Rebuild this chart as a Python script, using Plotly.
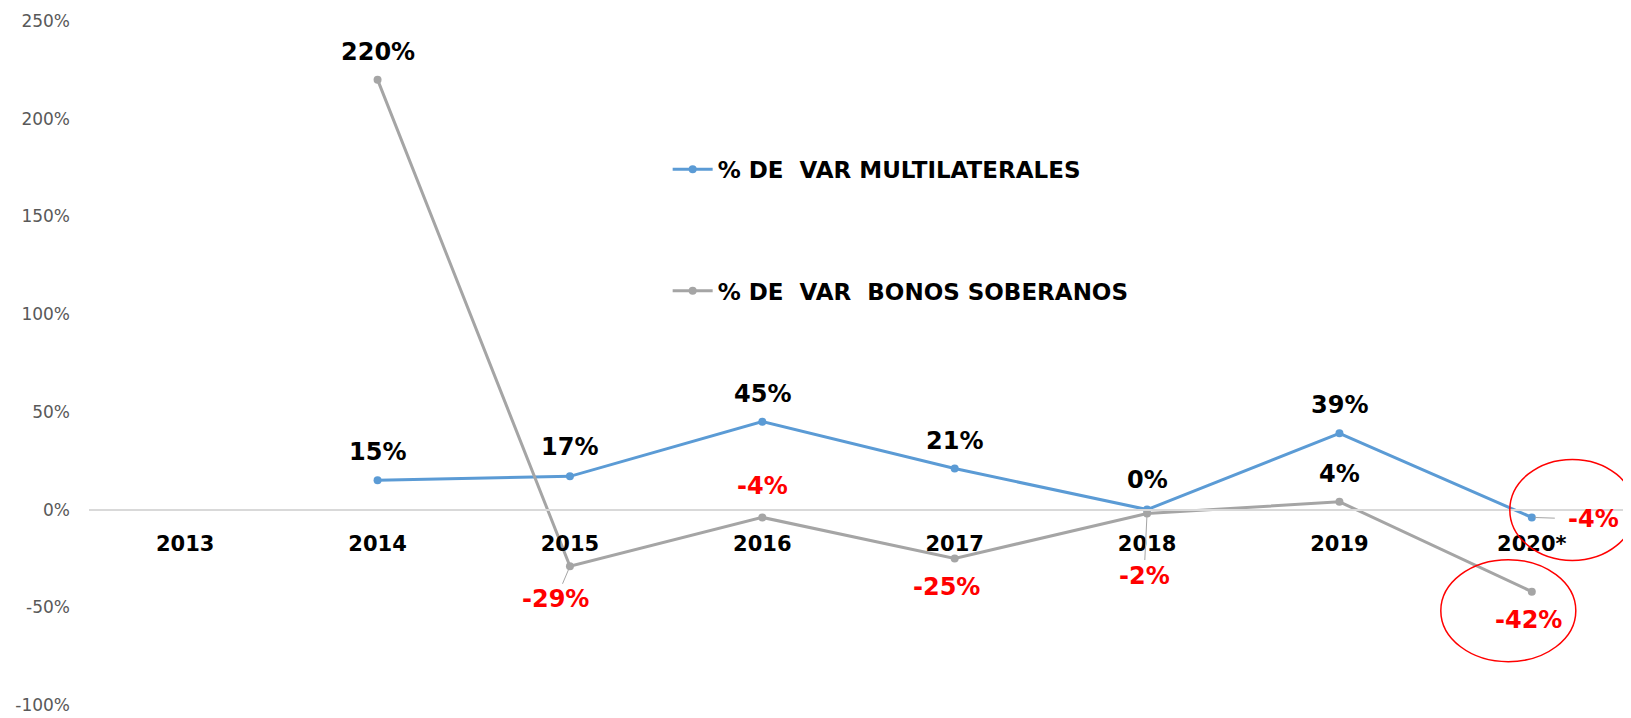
import plotly.graph_objects as go

# ---- data ----
years = ["2013", "2014", "2015", "2016", "2017", "2018", "2019", "2020*"]
multilaterales = [None, 15, 17, 45, 21, 0, 39, -4]
bonos = [None, 220, -29, -4, -25, -2, 4, -42]
y_ticks = [-100, -50, 0, 50, 100, 150, 200, 250]
y_tick_labels = [f"{v}%" for v in y_ticks]

name_multi = "% DE\u00a0 VAR MULTILATERALES"
name_bonos = "% DE\u00a0 VAR\u00a0 BONOS SOBERANOS"

# ---- styles ----
BLUE = "#5B9BD5"
GRAY = "#A5A5A5"
RED = "#FF0000"
FONT = "DejaVu Sans"

# label styling per point: (color, dx, dy, leader)
multi_lbl = [None,
             ("black", 0, -28, False), ("black", 0, -29, False), ("black", 0, -28, False),
             ("black", 0, -28, False), ("black", 0, -30, False), ("black", 0, -28, False),
             (RED, 62, 2, True)]
bonos_lbl = [None,
             ("black", 0, -28, False), (RED, -14, 33, True), (RED, 0, -31, False),
             (RED, -8, 29, False), (RED, -3, 62, True), ("black", 0, -28, False),
             (RED, -3, 28, False)]

fig = go.Figure()
fig.add_trace(go.Scatter(x=years, y=multilaterales, name=name_multi, mode="lines+markers",
                         line=dict(color=BLUE, width=3), marker=dict(size=8, color=BLUE),
                         legend="legend"))
fig.add_trace(go.Scatter(x=years, y=bonos, name=name_bonos, mode="lines+markers",
                         line=dict(color=GRAY, width=3), marker=dict(size=8, color=GRAY),
                         legend="legend2"))

annotations = []
for vals, lbls in ((multilaterales, multi_lbl), (bonos, bonos_lbl)):
    for i, (v, st) in enumerate(zip(vals, lbls)):
        if v is None or st is None:
            continue
        color, dx, dy, leader = st
        txt = f"{v:.0f}%"
        font = dict(family=FONT, size=24, color=color, weight="bold")
        if leader:
            annotations.append(dict(x=i, y=v, xref="x", yref="y", text=txt, showarrow=True,
                                    ax=dx, ay=dy, arrowhead=0, arrowwidth=1, arrowcolor=GRAY,
                                    standoff=3, startstandoff=(12 if i == len(vals) - 1 else 0),
                                    font=font))
        else:
            annotations.append(dict(x=i, y=v, xref="x", yref="y", text=txt, showarrow=False,
                                    xshift=dx, yshift=-dy, font=font))

shapes = [
    dict(type="circle", xref="x", yref="y", xsizemode="pixel", ysizemode="pixel",
         xanchor=len(years) - 1, yanchor=multilaterales[-1], x0=-22, x1=103, y0=-43, y1=58,
         line=dict(color=RED, width=1.5)),
    dict(type="circle", xref="x", yref="y", xsizemode="pixel", ysizemode="pixel",
         xanchor=len(years) - 1, yanchor=bonos[-1], x0=-91, x1=44, y0=-70, y1=32,
         line=dict(color=RED, width=1.5)),
]

legend_font = dict(family=FONT, size=23, color="black", weight="bold")

# page body has an 8px default margin: figure is sized to fill the rest of the window
fig.update_layout(
    width=1623, height=710,
    margin=dict(l=81, r=3, t=13, b=9),
    paper_bgcolor="white", plot_bgcolor="white",
    showlegend=True,
    legend=dict(x=0.376, y=0.7834, xanchor="left", yanchor="middle", bgcolor="rgba(0,0,0,0)",
                font=legend_font, itemwidth=40),
    legend2=dict(x=0.376, y=0.606, xanchor="left", yanchor="middle", bgcolor="rgba(0,0,0,0)",
                 font=legend_font, itemwidth=40),
    annotations=annotations,
    shapes=shapes,
    xaxis=dict(type="category", categoryorder="array", categoryarray=years,
               anchor="free", position=100.5 / 350.5, showline=True, linecolor="#D9D9D9", linewidth=1.5,
               showgrid=False, zeroline=False, ticks="", ticklabelstandoff=15,
               tickfont=dict(family=FONT, size=21, color="black", weight="bold"),
               range=[-0.5, 7.5]),
    yaxis=dict(range=[-100.5, 250], tickvals=y_ticks, ticktext=y_tick_labels, showgrid=False,
               zeroline=False, showline=False, ticks="", ticklabelstandoff=18,
               tickfont=dict(family=FONT, size=17, color="#595959")),
)

fig.write_html("out.html")
